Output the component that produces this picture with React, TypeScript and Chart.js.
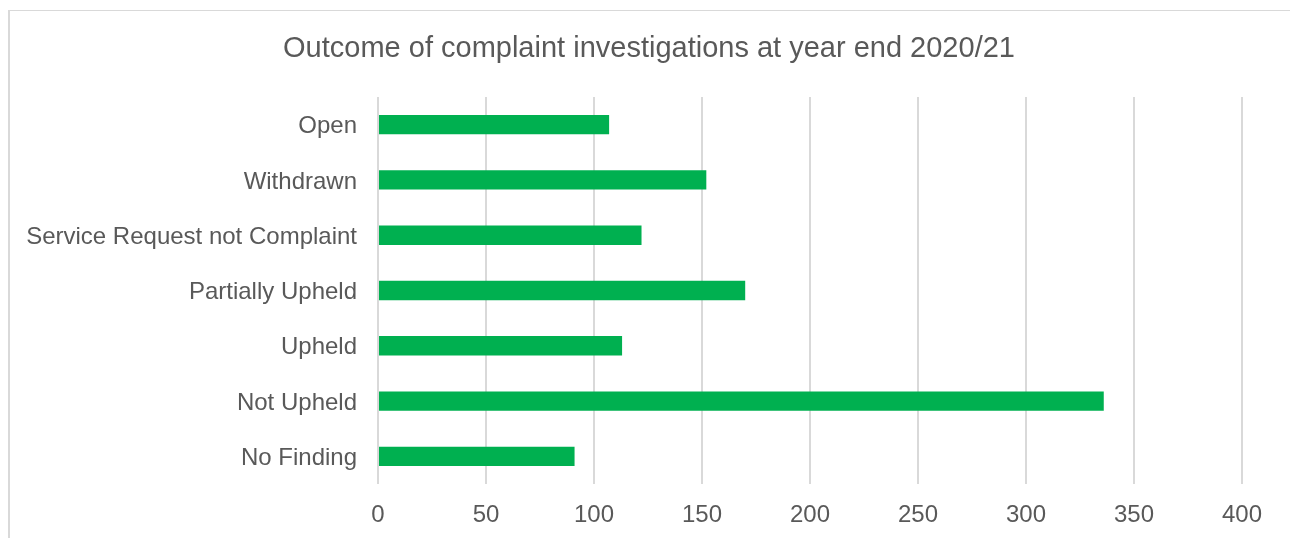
import React, { useEffect, useRef } from "react";
import { Chart, registerables } from "chart.js";

Chart.register(...registerables);

const categories = [
  "Open",
  "Withdrawn",
  "Service Request not Complaint",
  "Partially Upheld",
  "Upheld",
  "Not Upheld",
  "No Finding",
];
const counts = [107, 152, 122, 170, 113, 336, 91];
const xMin = 0;
const xMax = 400;
const xStep = 50;
const titleText = "Outcome of complaint investigations at year end 2020/21";

const FONT = "'Liberation Sans', Arial, sans-serif";

const titlePlugin = {
  id: "centeredTitle",
  afterDraw(chart: any) {
    const ctx = chart.ctx;
    ctx.save();
    ctx.font = `normal 29px ${FONT}`;
    ctx.fillStyle = "#595959";
    ctx.textAlign = "center";
    ctx.textBaseline = "middle";
    ctx.fillText(titleText, 649, 48.5);
    ctx.restore();
  },
};

export default function App() {
  const ref = useRef<HTMLCanvasElement | null>(null);

  useEffect(() => {
    if (!ref.current) return;
    const chart = new Chart(ref.current, {
      type: "bar",
      data: {
        labels: categories,
        datasets: [
          {
            data: counts,
            backgroundColor: "#00B050",
            borderWidth: 0,
            barPercentage: 0.35,
            categoryPercentage: 1,
          },
        ],
      },
      options: {
        indexAxis: "y",
        animation: false,
        responsive: false,
        maintainAspectRatio: false,
        layout: { padding: { left: 0, right: 48, top: 97, bottom: 0 } },
        plugins: {
          legend: { display: false },
          tooltip: { enabled: false },
          title: { display: false },
        },
        scales: {
          x: {
            type: "linear",
            position: "bottom",
            min: xMin,
            max: xMax,
            ticks: {
              stepSize: xStep,
              color: "#595959",
              font: { family: FONT, size: 24 },
              padding: 17,
            },
            grid: { color: "#d9d9d9", lineWidth: 2, drawTicks: false },
            border: { display: false },
            afterFit: (scale: any) => {
              scale.height = 54;
            },
          },
          y: {
            type: "category",
            ticks: {
              color: "#595959",
              font: { family: FONT, size: 24 },
              padding: 21,
              labelOffset: 2,
            },
            grid: { display: false, drawTicks: false },
            border: { display: false },
            afterFit: (scale: any) => {
              scale.width = 378;
            },
          },
        },
      },
      plugins: [titlePlugin],
    });
    return () => chart.destroy();
  }, []);

  return (
    <div style={{ position: "absolute", left: 0, top: 0, width: 1290, height: 538, overflow: "hidden", background: "#fff" }}>
      <div
        style={{
          position: "absolute",
          left: 8,
          top: 10,
          width: 1282,
          height: 528,
          boxSizing: "border-box",
          borderLeft: "2px solid #d9d9d9",
          borderTop: "1px solid #d9d9d9",
        }}
      />
      <canvas ref={ref} width={1290} height={538} style={{ position: "absolute", left: 0, top: 0 }} />
    </div>
  );
}
